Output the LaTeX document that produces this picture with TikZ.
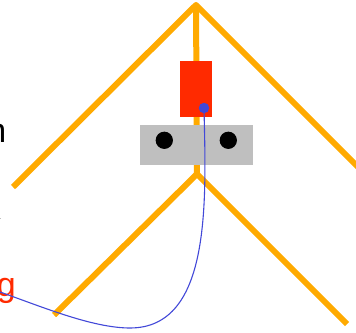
\documentclass[tikz,border=0pt]{standalone}
\usepackage{fontspec}
\setmainfont{Liberation Sans}
\definecolor{beam}{RGB}{255,170,0}
\definecolor{redbox}{RGB}{255,42,0}
\definecolor{greybox}{RGB}{191,191,191}
\definecolor{wire}{RGB}{66,72,216}
\tikzset{
  beamline/.style={draw=beam,line width=6pt,line cap=butt,line join=round},
  hole/.style={circle,fill=black,draw=none,minimum size=17.3pt,inner sep=0pt},
  pin/.style={circle,fill=wire,draw=none,minimum size=10.5pt,inner sep=0pt},
  wireline/.style={draw=wire,line width=1.1pt},
  label/.style={anchor=base east,inner sep=0pt,font=\fontsize{34pt}{34pt}\selectfont}
}
\begin{document}
\begin{tikzpicture}[x=1pt,y=-1pt]
\useasboundingbox (0,0) rectangle (356,332);
\clip (0,0) rectangle (356,332);
\coordinate (apex) at (196,5);
\coordinate (upL) at (13,187);
\coordinate (upR) at (360,169);
\coordinate (midT) at (197,174);
\coordinate (lowL) at (54,315);
\coordinate (lowR) at (347,324);
\draw[beamline] (apex) -- (midT);
\draw[beamline] (upL) -- (apex) -- (upR);
\draw[beamline] (lowL) -- (midT) -- (lowR);
\node[fill=redbox,minimum width=32pt,minimum height=56pt,inner sep=0pt] (block) at (196,89) {};
\node[fill=greybox,minimum width=113pt,minimum height=40pt,inner sep=0pt] (plate) at (196.5,145) {};
\node[hole] (holeL) at (164.3,140.3) {};
\node[hole] (holeR) at (228.3,140.3) {};
\node[label,text=black] (textN) at (6.5,142.5) {n};
\node[label,text=redbox] (textG) at (16,296.5) {g};
\node[pin] (pinA) at (204,108) {};
\coordinate (wireEnd) at (0,292);
\draw[wireline] (pinA.center) .. controls (206,200) and (212,328) .. (130,328) .. controls (92,328) and (40,306) .. (wireEnd);
\fill[greybox] (0,217.5) rectangle (1,219);
\end{tikzpicture}
\end{document}
